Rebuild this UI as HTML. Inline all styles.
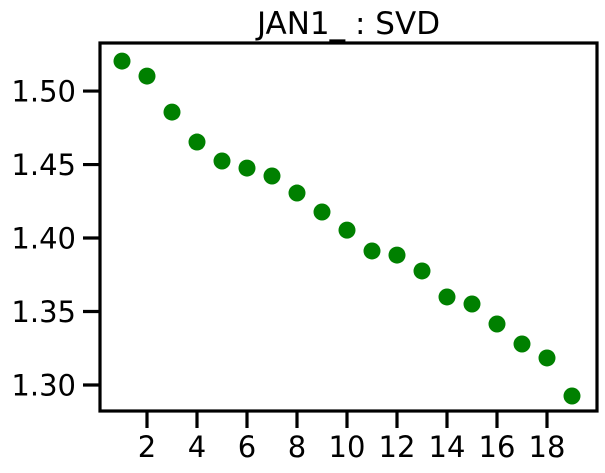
<!DOCTYPE html>
<html><head><meta charset="utf-8"><style>
body{margin:0;background:#fff;}
svg{display:block;font-family:"DejaVu Sans","Liberation Sans",sans-serif;}
</style></head><body>
<svg id="chart" width="605" height="473"></svg>
<script>
const xValues=[1,2,3,4,5,6,7,8,9,10,11,12,13,14,15,16,17,18,19];
const yValues=[1.5204,1.5102,1.4857,1.4653,1.4524,1.4476,1.4422,1.4306,1.4177,1.4054,1.3912,1.3884,1.3776,1.3599,1.3551,1.3415,1.3279,1.3184,1.2925];
const xTicks=[2,4,6,8,10,12,14,16,18];
const yTicks=[1.30,1.35,1.40,1.45,1.50];
const titleText="JAN1_ : SVD";

const L=100,R=597,T=43,B=411;
const xMin=0.12,xMax=20.0,yMin=1.2823,yMax=1.5327;
const sx=v=>L+(v-xMin)/(xMax-xMin)*(R-L);
const sy=v=>B-(v-yMin)/(yMax-yMin)*(B-T);
const NS="http://www.w3.org/2000/svg";
const svg=document.getElementById('chart');
function mk(tag,attrs){const e=document.createElementNS(NS,tag);for(const k in attrs)e.setAttribute(k,attrs[k]);svg.appendChild(e);return e;}

xValues.forEach((x,i)=>{
  const c=mk('circle',{cx:sx(x),cy:sy(yValues[i]),r:8.5,fill:'#008000'});
  
  
});
const frame=mk('rect',{x:L,y:T,width:R-L,height:B-T,fill:'none',stroke:'#000','stroke-width':3.2});


xTicks.forEach(t=>{
  const x=sx(t);
  const tk=mk('line',{x1:x,x2:x,y1:B,y2:B+17,stroke:'#000','stroke-width':3.2});
  
  
  const lb=mk('text',{x:x,y:B+46,'text-anchor':'middle','font-size':29,fill:'#000'});
  lb.textContent=t;
  
  
});
yTicks.forEach(t=>{
  const y=sy(t);
  const tk=mk('line',{x1:L-17,x2:L,y1:y,y2:y,stroke:'#000','stroke-width':3.2});
  
  
  const lb=mk('text',{x:L-24,y:y+10.5,'text-anchor':'end','font-size':29,fill:'#000'});
  lb.textContent=t.toFixed(2);
  
  
});
const tt=mk('text',{x:(L+R)/2,y:34,'text-anchor':'middle','font-size':31,fill:'#000'});
tt.textContent=titleText;


</script>
</body></html>
